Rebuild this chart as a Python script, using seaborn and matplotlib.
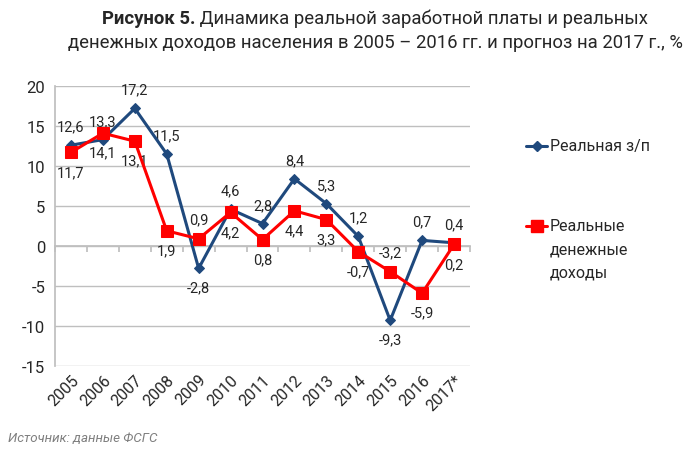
import matplotlib
matplotlib.use("Agg")
import matplotlib.pyplot as plt
import seaborn as sns
import numpy as np
import pandas as pd
from matplotlib.lines import Line2D

years = ["2005", "2006", "2007", "2008", "2009", "2010", "2011", "2012",
         "2013", "2014", "2015", "2016", "2017*"]
real_wage = [12.6, 13.3, 17.2, 11.5, -2.8, 4.6, 2.8, 8.4, 5.3, 1.2, -9.3, 0.7, 0.4]
real_income = [11.7, 14.1, 13.1, 1.9, 0.9, 4.2, 0.8, 4.4, 3.3, -0.7, -3.2, -5.9, 0.2]
yticks = [20, 15, 10, 5, 0, -5, -10, -15]

# label placement (style only): +1 above, -1 below
wage_pos = [1, 1, 1, 1, -1, 1, 1, 1, 1, 1, -1, 1, 1]
income_pos = [-1, -1, -1, -1, 1, -1, -1, -1, -1, -1, 1, -1, -1]

sns.set_theme(style="white")
FONT = ["Roboto", "DejaVu Sans"]
plt.rcParams["font.family"] = FONT

BLUE = "#1F497D"
RED = "#FF0000"
GRID = "#BFBFBF"

fig = plt.figure(figsize=(7, 4.52), dpi=100)
ax = fig.add_axes([55 / 700, 1 - 367 / 452, 415 / 700, 280 / 452])

df = pd.DataFrame({"x": np.arange(len(years)), "wage": real_wage, "income": real_income})
sns.lineplot(data=df, x="x", y="wage", ax=ax, color=BLUE, lw=2.2, marker="D",
             markersize=5.5, markeredgecolor=BLUE, zorder=4)
sns.lineplot(data=df, x="x", y="income", ax=ax, color=RED, lw=2.2, marker="s",
             markersize=8.5, markeredgecolor=RED, zorder=5)

ax.set_xlim(-0.5, len(years) - 0.5)
ax.set_ylim(-15, 20)
ax.set_yticks(yticks)
ax.set_yticklabels([str(v) for v in yticks], fontsize=12)
ax.set_xticks(df["x"])
ax.set_xticklabels(years, rotation=45, ha="right", rotation_mode="anchor", fontsize=11.5)
ax.set_xlabel("")
ax.set_ylabel("")
ax.grid(axis="y", color=GRID, lw=1)
ax.set_axisbelow(True)
for s in ["top", "right", "bottom"]:
    ax.spines[s].set_visible(False)
ax.spines["left"].set_color(GRID)
ax.tick_params(axis="y", length=4, color=GRID, direction="out", pad=3)
ax.tick_params(axis="x", length=0, pad=4)

sec = ax.secondary_xaxis(15 / 35)
sec.set_xticks(np.arange(len(years) + 1) - 0.5)
sec.set_xticklabels([])
sec.tick_params(length=4, color=GRID, direction="out")
sec.spines["bottom"].set_color(GRID)

for i, (v, p) in enumerate(zip(real_wage, wage_pos)):
    ax.annotate(f"{v:.1f}".replace(".", ","), (i, v), xytext=(0, 13.5 * p),
                textcoords="offset points", ha="center", va="center", fontsize=10.5)
for i, (v, p) in enumerate(zip(real_income, income_pos)):
    ax.annotate(f"{v:.1f}".replace(".", ","), (i, v), xytext=(0, 14 * p),
                textcoords="offset points", ha="center", va="center", fontsize=10.5)

# legend (manual)
fig.add_artist(Line2D([526 / 700, 547 / 700], [1 - 147 / 452] * 2, color=BLUE, lw=2.2, transform=fig.transFigure))
fig.add_artist(Line2D([536.5 / 700], [1 - 147 / 452], color=BLUE, marker="D", markersize=5, transform=fig.transFigure))
fig.text(550 / 700, 1 - 147 / 452, "Реальная з/п", fontsize=11.5, va="center", ha="left")
fig.add_artist(Line2D([526 / 700, 547 / 700], [1 - 227 / 452] * 2, color=RED, lw=2.2, transform=fig.transFigure))
fig.add_artist(Line2D([536.5 / 700], [1 - 227 / 452], color=RED, marker="s", markersize=8, transform=fig.transFigure))
for k, t in enumerate(["Реальные", "денежные", "доходы"]):
    fig.text(550 / 700, 1 - (227 + 23 * k) / 452, t, fontsize=11.5, va="center", ha="left")

# title
TS = 13.3
fig.canvas.draw()
r = fig.canvas.get_renderer()
tb = fig.text(0, 1 - 19 / 452, "Рисунок 5.", fontsize=TS, fontweight="bold", va="center", ha="left")
tr = fig.text(0, 1 - 19 / 452, " Динамика реальной заработной платы и реальных", fontsize=TS, va="center", ha="left")
wb = tb.get_window_extent(r).width
wr = tr.get_window_extent(r).width
cx = 375
x0 = cx - (wb + wr) / 2
tb.set_x(x0 / 700)
tr.set_x((x0 + wb) / 700)
fig.text(cx / 700, 1 - 43 / 452, "денежных доходов населения в 2005 – 2016 гг. и прогноз на 2017 г., %",
         fontsize=TS, va="center", ha="center")

fig.text(8 / 700, 1 - 439 / 452, "Источник: данные ФСГС", fontsize=9.6, style="italic",
         color="#7F7F7F", va="center", ha="left")

fig.savefig("out.png", dpi=100, facecolor="white")
